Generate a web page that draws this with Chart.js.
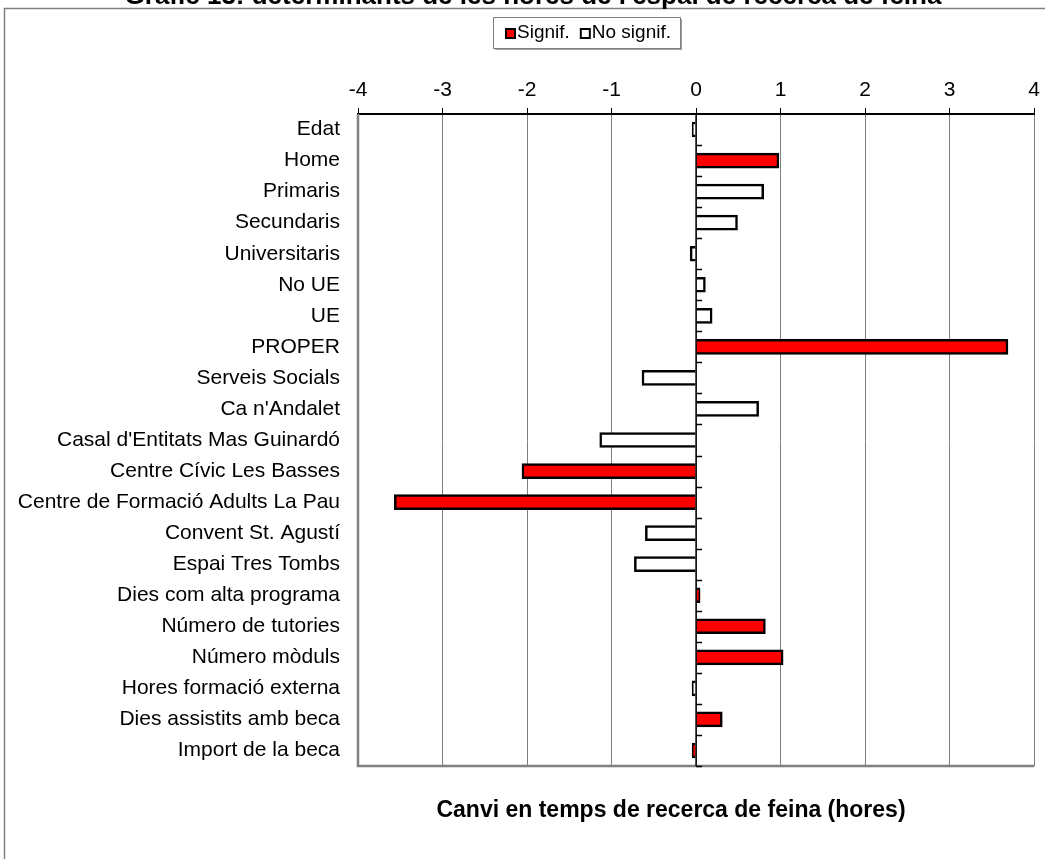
<!DOCTYPE html>
<html>
<head>
<meta charset="utf-8">
<script src="https://cdn.jsdelivr.net/npm/chart.js@4.4.1/dist/chart.umd.min.js"></script>
<style>
    html, body { margin: 0; padding: 0; background: #fff; }
    #wrap { position: relative; width: 1045px; height: 859px; }
</style>
</head>
<body>
<div id="wrap"><canvas id="chart"></canvas></div>
<script>
// categories, top to bottom
const categories = [
    "Edat", "Home", "Primaris", "Secundaris", "Universitaris", "No UE", "UE",
    "PROPER", "Serveis Socials", "Ca n'Andalet", "Casal d'Entitats Mas Guinardó",
    "Centre Cívic Les Basses", "Centre de Formació Adults La Pau",
    "Convent St. Agustí", "Espai Tres Tombs", "Dies com alta programa",
    "Número de tutories", "Número mòduls", "Hores formació externa",
    "Dies assistits amb beca", "Import de la beca"
];

// significant coefficients (null = not significant)
const signif = [
    null, 0.98, null, null, null, null, null,
    3.69, null, null, null,
    -2.06, -3.57,
    null, null, 0.02,
    0.82, 1.03, null,
    0.31, -0.02
];

// non significant coefficients
const noSignif = [
    -0.01, null, 0.80, 0.49, -0.07, 0.11, 0.19,
    null, -0.64, 0.74, -1.14,
    null, null,
    -0.60, -0.73, null,
    null, null, -0.01,
    null, null
];

const xTicks = [-4, -3, -2, -1, 0, 1, 2, 3, 4];

const chartTitle = "Gràfic 13: determinants de les hores de l'espai de recerca de feina";
const axisTitle = "Canvi en temps de recerca de feina (hores)";

const FONT = "'Liberation Sans', Arial, sans-serif";

// frame, legend, titles and the zero axis with its category ticks
const decor = {
    id: "decor",
    beforeDatasetsDraw(chart) {
        const { ctx, chartArea: a } = chart;
        ctx.save();
        // plot area border (left + bottom)
        ctx.strokeStyle = "#808080";
        ctx.lineWidth = 2.5;
        ctx.beginPath();
        ctx.moveTo(a.left, a.top);
        ctx.lineTo(a.left, a.bottom);
        ctx.lineTo(a.right, a.bottom);
        ctx.stroke();
        ctx.restore();
    },
    afterDatasetsDraw(chart) {
        const { ctx, chartArea: a, scales } = chart;
        const x0 = scales.x.getPixelForValue(0);
        ctx.save();
        ctx.strokeStyle = "#000";
        ctx.lineWidth = 1.5;
        ctx.beginPath();
        ctx.moveTo(x0, a.top);
        ctx.lineTo(x0, a.bottom);
        const step = (a.bottom - a.top) / categories.length;
        for (let i = 1; i <= categories.length; i++) {
            const yy = Math.round(a.top + step * i) + 0.5;
            ctx.moveTo(x0, yy);
            ctx.lineTo(x0 + 6, yy);
        }
        ctx.stroke();
        ctx.restore();
    },
    afterDraw(chart) {
        const { ctx } = chart;
        ctx.save();

        // outer chart frame
        ctx.strokeStyle = "#808080";
        ctx.lineWidth = 1.5;
        ctx.beginPath();
        ctx.moveTo(4.5, 870);
        ctx.lineTo(4.5, 8.5);
        ctx.lineTo(1050, 8.5);
        ctx.stroke();

        // chart title (runs off the top edge)
        ctx.fillStyle = "#000";
        ctx.font = "bold 26px " + FONT;
        ctx.textAlign = "center";
        ctx.textBaseline = "alphabetic";
        ctx.fillText(chartTitle, 533, 4);

        // axis title
        ctx.font = "bold 23px " + FONT;
        ctx.textBaseline = "middle";
        ctx.fillText(axisTitle, 671, 811);

        // legend
        const lx = 493, ly = 17, lw = 187, lh = 31;
        ctx.fillStyle = "#a0a0a0";
        ctx.fillRect(lx + 2, ly + 2, lw, lh);
        ctx.fillStyle = "#fff";
        ctx.fillRect(lx, ly, lw, lh);
        ctx.strokeStyle = "#808080";
        ctx.lineWidth = 1;
        ctx.strokeRect(lx + 0.5, ly + 0.5, lw, lh);

        ctx.font = "19px " + FONT;
        ctx.textAlign = "left";
        ctx.textBaseline = "middle";
        let cx = 505;
        chart.data.datasets.forEach(ds => {
            ctx.fillStyle = "#000";
            ctx.fillRect(cx, 28, 11, 11);
            ctx.fillStyle = ds.backgroundColor;
            ctx.fillRect(cx + 2, 30, 7, 7);
            ctx.fillStyle = "#000";
            ctx.fillText(ds.label, cx + 12, 33);
            cx += 12 + ctx.measureText(ds.label).width + 10;
        });
        ctx.restore();
    }
};

const ctx = document.getElementById("chart").getContext("2d");

new Chart(ctx, {
    type: "bar",
    data: {
        labels: categories,
        datasets: [{
            label: "Signif.",
            data: signif,
            backgroundColor: "#ff0000",
            borderColor: "#000",
            borderWidth: 2.5,
            barThickness: 15,
            minBarLength: 4,
            grouped: false
        }, {
            label: "No signif.",
            data: noSignif,
            backgroundColor: "#ffffff",
            borderColor: "#000",
            borderWidth: 2.5,
            barThickness: 15,
            minBarLength: 4,
            grouped: false
        }]
    },
    options: {
        indexAxis: "y",
        responsive: true,
        maintainAspectRatio: false,
        animation: false,
        layout: { padding: { top: 0, left: 0, right: 9, bottom: 93 } },
        plugins: {
            legend: { display: false },
            tooltip: { enabled: false }
        },
        scales: {
            x: {
                position: "top",
                min: -4,
                max: 4,
                afterBuildTicks(scale) {
                    scale.ticks = xTicks.map(v => ({ value: v }));
                },
                afterFit(scale) { scale.height = 114; },
                grid: { color: "#7f7f7f", lineWidth: 1, tickColor: "#000", tickLength: 6 },
                border: { display: true, color: "#000", width: 2 },
                ticks: {
                    color: "#000",
                    padding: 5,
                    font: { family: FONT, size: 21 }
                }
            },
            y: {
                afterFit(scale) { scale.width = 358; },
                grid: { display: false },
                border: { display: false },
                ticks: {
                    color: "#000",
                    padding: 10,
                    autoSkip: false,
                    font: { family: FONT, size: 21 }
                }
            }
        }
    },
    plugins: [decor]
});
</script>
</body>
</html>
